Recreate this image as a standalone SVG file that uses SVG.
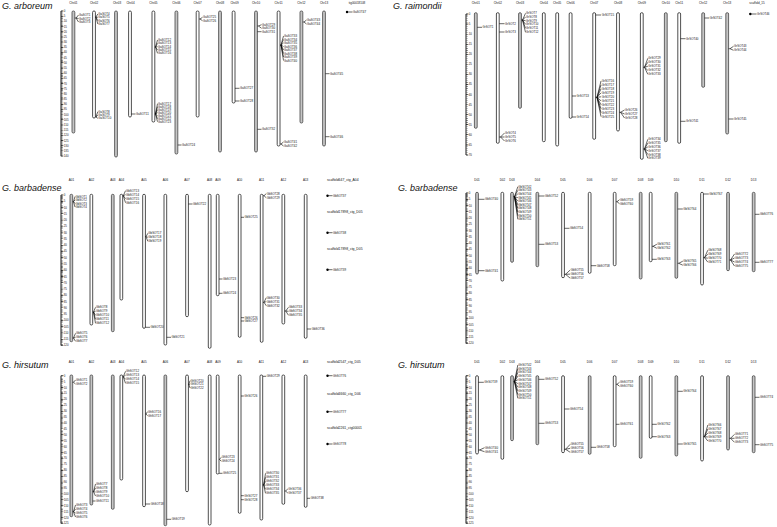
<svg xmlns="http://www.w3.org/2000/svg" width="777" height="527" viewBox="0 0 777 527">
<style>
text{font-family:"Liberation Sans",Arial,sans-serif;fill:#111}
.t{font-size:9px;font-style:italic}
.h{font-size:3px;text-anchor:middle}
.sc{font-size:3.4px}
.g{font-size:2.9px}
.s{font-size:2.8px}
.c{fill:#fff;stroke:#222;stroke-width:.8}
.k{fill:#c6c6c6;stroke:#444}
.l{fill:none;stroke:#000;stroke-width:.6}
.sp{stroke:#000;stroke-width:.9}
.mi{stroke:#000;stroke-width:1.6}
.ma{stroke:#000;stroke-width:2.4}
</style>
<rect width="777" height="527" fill="#fff"/>

<!-- ================= G. arboreum ================= -->
<g id="arboreum">
<text class="t" x="2" y="9">G. arboreum</text>
<g id="a-scale">
<line class="sp" x1="61" y1="11" x2="61" y2="156.2"/>
<line class="mi" x1="62" y1="10.85" x2="62" y2="156.2" stroke-dasharray="0.3 0.736"/>
<line class="ma" x1="62.2" y1="10.78" x2="62.2" y2="156.5" stroke-dasharray="0.45 4.73"/>
<text class="s" x="63.8" y="12">0<tspan x="63.8" dy="5.18">5</tspan><tspan x="63.8" dy="5.18">10</tspan><tspan x="63.8" dy="5.18">15</tspan><tspan x="63.8" dy="5.18">20</tspan><tspan x="63.8" dy="5.18">25</tspan><tspan x="63.8" dy="5.18">30</tspan><tspan x="63.8" dy="5.18">35</tspan><tspan x="63.8" dy="5.18">40</tspan><tspan x="63.8" dy="5.18">45</tspan><tspan x="63.8" dy="5.18">50</tspan><tspan x="63.8" dy="5.18">55</tspan><tspan x="63.8" dy="5.18">60</tspan><tspan x="63.8" dy="5.18">65</tspan><tspan x="63.8" dy="5.18">70</tspan><tspan x="63.8" dy="5.18">75</tspan><tspan x="63.8" dy="5.18">80</tspan><tspan x="63.8" dy="5.18">85</tspan><tspan x="63.8" dy="5.18">90</tspan><tspan x="63.8" dy="5.18">95</tspan><tspan x="63.8" dy="5.18">100</tspan><tspan x="63.8" dy="5.18">105</tspan><tspan x="63.8" dy="5.18">110</tspan><tspan x="63.8" dy="5.18">115</tspan><tspan x="63.8" dy="5.18">120</tspan><tspan x="63.8" dy="5.18">125</tspan><tspan x="63.8" dy="5.18">130</tspan><tspan x="63.8" dy="5.18">135</tspan><tspan x="63.8" dy="5.18">140</tspan></text>
</g>
<g id="a-chr01"><rect class="c k" x="72" y="11" width="2.8" height="122" rx="1.3"/><text class="h" x="73.4" y="4">Chr01</text><text class="g"><tspan x="79" y="16">GaSOT1</tspan><tspan x="79" y="19.5">GaSOT2</tspan><tspan x="79" y="23">GaSOT3</tspan></text></g>
<g id="a-chr02"><rect class="c" x="92.6" y="11" width="2.8" height="107" rx="1.3"/><text class="h" x="94" y="4">Chr02</text><text class="g"><tspan x="98.3" y="15">GaSOT4</tspan><tspan x="98.3" y="18.3">GaSOT5</tspan><tspan x="98.3" y="21.7">GaSOT6</tspan><tspan x="98.3" y="25">GaSOT7</tspan><tspan x="98.3" y="112.7">GaSOT8</tspan><tspan x="98.3" y="116">GaSOT9</tspan><tspan x="98.3" y="119.3">GaSOT10</tspan></text></g>
<g id="a-chr03"><rect class="c k" x="114.6" y="11" width="2.8" height="146" rx="1.3"/><text class="h" x="117" y="4">Chr03</text></g>
<g id="a-chr04"><rect class="c" x="128.6" y="11" width="2.8" height="106" rx="1.3"/><text class="h" x="130.5" y="4">Chr04</text><text class="g"><tspan x="136" y="115">GaSOT11</tspan></text></g>
<g id="a-chr05"><rect class="c" x="152" y="11" width="2.8" height="111" rx="1.3"/><text class="h" x="153.4" y="4">Chr05</text><text class="g"><tspan x="158" y="41">GaSOT12</tspan><tspan x="158" y="44.3">GaSOT13</tspan><tspan x="158" y="47.7">GaSOT14</tspan><tspan x="158" y="51">GaSOT15</tspan><tspan x="158" y="54.3">GaSOT16</tspan><tspan x="158" y="104.7">GaSOT17</tspan><tspan x="158" y="107.7">GaSOT18</tspan><tspan x="158" y="110.7">GaSOT19</tspan><tspan x="158" y="113.7">GaSOT20</tspan><tspan x="158" y="116.7">GaSOT21</tspan><tspan x="158" y="119.7">GaSOT22</tspan><tspan x="158" y="122.7">GaSOT23</tspan></text></g>
<g id="a-chr06"><rect class="c k" x="175" y="11" width="2.8" height="143" rx="1.3"/><text class="h" x="176.4" y="4">Chr06</text><text class="g"><tspan x="182" y="146">GaSOT24</tspan></text></g>
<g id="a-chr07"><rect class="c" x="196.2" y="11" width="2.8" height="106" rx="1.3"/><text class="h" x="197.6" y="4">Chr07</text><text class="g"><tspan x="203" y="18.3">GaSOT25</tspan><tspan x="203" y="21.7">GaSOT26</tspan></text></g>
<g id="a-chr08"><rect class="c k" x="218.6" y="11" width="2.8" height="141" rx="1.3"/><text class="h" x="220" y="4">Chr08</text></g>
<g id="a-chr09"><rect class="c" x="232.2" y="11" width="2.8" height="92" rx="1.3"/><text class="h" x="234.5" y="4">Chr09</text><text class="g"><tspan x="240" y="89.3">GaSOT27</tspan><tspan x="240" y="102">GaSOT28</tspan></text></g>
<g id="a-chr10"><rect class="c k" x="254.6" y="11" width="2.8" height="141" rx="1.3"/><text class="h" x="256" y="4">Chr10</text><text class="g"><tspan x="262" y="25.7">GaSOT29</tspan><tspan x="262" y="29.3">GaSOT30</tspan><tspan x="262" y="32.7">GaSOT31</tspan><tspan x="262" y="130.3">GaSOT32</tspan></text></g>
<g id="a-chr11"><rect class="c" x="277.2" y="11" width="2.8" height="135" rx="1.3"/><text class="h" x="278.6" y="4">Chr11</text><text class="g"><tspan x="284" y="37">GaSOT33</tspan><tspan x="284" y="40.5">GaSOT34</tspan><tspan x="284" y="44">GaSOT35</tspan><tspan x="284" y="47.5">GaSOT36</tspan><tspan x="284" y="51">GaSOT37</tspan><tspan x="284" y="54.5">GaSOT38</tspan><tspan x="284" y="58">GaSOT39</tspan><tspan x="284" y="61.5">GaSOT40</tspan><tspan x="284" y="143">GaSOT41</tspan><tspan x="284" y="147">GaSOT42</tspan></text></g>
<g id="a-chr12"><rect class="c k" x="300" y="11" width="2.8" height="112" rx="1.3"/><text class="h" x="301.4" y="4">Chr12</text><text class="g"><tspan x="307" y="21">GaSOT43</tspan><tspan x="307" y="25">GaSOT44</tspan></text></g>
<g id="a-chr13"><rect class="c k" x="322.6" y="11" width="2.8" height="135" rx="1.3"/><text class="h" x="324" y="4">Chr13</text><text class="g"><tspan x="330" y="74.7">GaSOT45</tspan><tspan x="330" y="137.7">GaSOT46</tspan></text></g>
<g id="a-tig"><text class="h" x="357" y="4">tig00018108</text><circle cx="347" cy="12" r="1.2" fill="#000"/><text class="g" x="353" y="13">GaSOT47</text></g>
<g id="a-links"><path class="l" d="M74.8 18H76M76 18L78.5 15M76 18L78.5 18.5M76 18L78.5 22
M95.4 17H95.9M95.9 17L97.8 14M95.9 17L97.8 17.3M95.9 17L97.8 20.7M95.9 17L97.8 24
M95.4 117H95.9M95.9 117L97.8 111.7M95.9 117L97.8 115M95.9 117L97.8 118.3
M131.4 114H135.5
M154.8 47H155.5M155.5 47L157.5 40M155.5 47L157.5 43.3M155.5 47L157.5 46.7M155.5 47L157.5 50M155.5 47L157.5 53.3
M154.8 114H155.5M155.5 114L157.5 103.7M155.5 114L157.5 106.7M155.5 114L157.5 109.7M155.5 114L157.5 112.7M155.5 114L157.5 115.7M155.5 114L157.5 118.7M155.5 114L157.5 121.7
M177.8 145H181.5
M199 19H200M200 19L202.5 17.3M200 19L202.5 20.7
M235 88.3H239.5M235 101H239.5
M257.4 26H258.5M258.5 26L261.5 24.7M258.5 26L261.5 28.3M257.4 31.7H261.5M257.4 129.3H261.5
M280 45H281M281 45L283.5 36M281 45L283.5 39.5M281 45L283.5 43M281 45L283.5 46.5M281 45L283.5 50M281 45L283.5 53.5M281 45L283.5 57M281 45L283.5 60.5
M280 144H281M281 144L283.5 142M281 144L283.5 146
M302.8 22H304M304 22L306.5 20M304 22L306.5 24
M325.4 73.7H329.5M325.4 136.7H329.5
M347 12H352.5"/></g>
</g>

<!-- ================= G. raimondii ================= -->
<g id="raimondii">
<text class="t" x="393" y="9">G. raimondii</text>
<g id="r-scale">
<line class="sp" x1="466" y1="14" x2="466" y2="155"/>
<line class="mi" x1="467" y1="13.85" x2="467" y2="155.2" stroke-dasharray="0.3 1.714"/>
<line class="ma" x1="467.2" y1="13.78" x2="467.2" y2="155.5" stroke-dasharray="0.45 9.62"/>
<text class="s" x="468.8" y="15">0<tspan x="468.8" dy="10.07">5</tspan><tspan x="468.8" dy="10.07">10</tspan><tspan x="468.8" dy="10.07">15</tspan><tspan x="468.8" dy="10.07">20</tspan><tspan x="468.8" dy="10.07">25</tspan><tspan x="468.8" dy="10.07">30</tspan><tspan x="468.8" dy="10.07">35</tspan><tspan x="468.8" dy="10.07">40</tspan><tspan x="468.8" dy="10.07">45</tspan><tspan x="468.8" dy="10.07">50</tspan><tspan x="468.8" dy="10.07">55</tspan><tspan x="468.8" dy="10.07">60</tspan><tspan x="468.8" dy="10.07">65</tspan><tspan x="468.8" dy="10.07">70</tspan></text>
</g>
<g id="r-chr01"><rect class="c k" x="474.4" y="12.7" width="2.8" height="115.6" rx="1.3"/><text class="h" x="475.8" y="4">Chr01</text><text class="g" x="482.5" y="28.3">GrSOT1</text></g>
<g id="r-chr02"><rect class="c" x="496.4" y="12.7" width="2.8" height="130.6" rx="1.3"/><text class="h" x="497.8" y="4">Chr02</text><text class="g"><tspan x="505" y="24.7">GrSOT2</tspan><tspan x="505" y="33">GrSOT3</tspan><tspan x="505" y="134">GrSOT4</tspan><tspan x="505" y="138">GrSOT5</tspan><tspan x="505" y="142">GrSOT6</tspan></text></g>
<g id="r-chr03"><rect class="c k" x="518.6" y="12.7" width="2.8" height="95.6" rx="1.3"/><text class="h" x="520" y="4">Chr03</text><text class="g"><tspan x="526" y="14.3">GrSOT7</tspan><tspan x="526" y="18">GrSOT8</tspan><tspan x="526" y="21.7">GrSOT9</tspan><tspan x="526" y="25.3">GrSOT10</tspan><tspan x="526" y="29.3">GrSOT11</tspan><tspan x="526" y="33.3">GrSOT12</tspan></text></g>
<g id="r-chr04"><rect class="c" x="542.4" y="12.7" width="2.8" height="129" rx="1.3"/><text class="h" x="543.8" y="4">Chr04</text></g>
<g id="r-chr05"><rect class="c" x="555.8" y="12.7" width="2.8" height="133.3" rx="1.3"/><text class="h" x="557.2" y="4">Chr05</text></g>
<g id="r-chr06"><rect class="c" x="569.2" y="12.7" width="2.8" height="105.6" rx="1.3"/><text class="h" x="570.6" y="4">Chr06</text><text class="g"><tspan x="576.5" y="97">GrSOT13</tspan><tspan x="576.5" y="118">GrSOT14</tspan></text></g>
<g id="r-chr07"><rect class="c" x="592.8" y="12.7" width="2.8" height="126.6" rx="1.3"/><text class="h" x="594.2" y="4">Chr07</text><text class="g"><tspan x="601.7" y="16">GrSOT15</tspan><tspan x="601.7" y="82">GrSOT16</tspan><tspan x="601.7" y="86">GrSOT17</tspan><tspan x="601.7" y="89.9">GrSOT18</tspan><tspan x="601.7" y="93.9">GrSOT19</tspan><tspan x="601.7" y="97.8">GrSOT20</tspan><tspan x="601.7" y="101.8">GrSOT21</tspan><tspan x="601.7" y="105.8">GrSOT22</tspan><tspan x="601.7" y="109.7">GrSOT23</tspan><tspan x="601.7" y="113.7">GrSOT24</tspan><tspan x="601.7" y="117.6">GrSOT25</tspan></text></g>
<g id="r-chr08"><rect class="c" x="616.6" y="12.7" width="2.8" height="118.3" rx="1.3"/><text class="h" x="618" y="4">Chr08</text><text class="g"><tspan x="625" y="111">GrSOT26</tspan><tspan x="625" y="115">GrSOT27</tspan><tspan x="625" y="119">GrSOT28</tspan></text></g>
<g id="r-chr09"><rect class="c" x="640.4" y="12.7" width="2.8" height="146.6" rx="1.3"/><text class="h" x="641.8" y="4">Chr09</text><text class="g"><tspan x="648.3" y="59.3">GrSOT29</tspan><tspan x="648.3" y="63.3">GrSOT30</tspan><tspan x="648.3" y="67.3">GrSOT31</tspan><tspan x="648.3" y="71.3">GrSOT32</tspan><tspan x="648.3" y="75.3">GrSOT33</tspan><tspan x="648.3" y="140.3">GrSOT34</tspan><tspan x="648.3" y="144.1">GrSOT35</tspan><tspan x="648.3" y="147.9">GrSOT36</tspan><tspan x="648.3" y="151.7">GrSOT37</tspan><tspan x="648.3" y="155.5">GrSOT38</tspan><tspan x="648.3" y="159.3">GrSOT39</tspan></text></g>
<g id="r-chr10"><rect class="c k" x="664.4" y="12.7" width="2.8" height="129" rx="1.3"/><text class="h" x="665.8" y="4">Chr10</text></g>
<g id="r-chr11"><rect class="c" x="677.8" y="12.7" width="2.8" height="130.6" rx="1.3"/><text class="h" x="679.2" y="4">Chr11</text><text class="g"><tspan x="686" y="39.7">GrSOT40</tspan><tspan x="686" y="122.3">GrSOT41</tspan></text></g>
<g id="r-chr12"><rect class="c k" x="701.8" y="12.7" width="2.8" height="74.6" rx="1.3"/><text class="h" x="703.2" y="4">Chr12</text><text class="g" x="709.7" y="19">GrSOT42</text></g>
<g id="r-chr13"><rect class="c k" x="725.8" y="12.7" width="2.8" height="121.3" rx="1.3"/><text class="h" x="727.2" y="4">Chr13</text><text class="g"><tspan x="734" y="47.3">GrSOT43</tspan><tspan x="734" y="51.3">GrSOT44</tspan><tspan x="734" y="120">GrSOT45</tspan></text></g>
<g id="r-scaf15"><text class="h" x="757" y="4">scaffold_15</text><circle cx="750.3" cy="14" r="1.2" fill="#000"/><text class="g" x="757" y="15">GrSOT46</text></g>
<g id="r-links"><path class="l" d="M477.2 27.3H482
M499.2 23.7H504.5M499.2 32H504.5
M499.2 137H500.5M500.5 137L504.5 133M500.5 137L504.5 137M500.5 137L504.5 141
M521.4 20H522.5M522.5 20L525.5 13.3M522.5 20L525.5 17M522.5 20L525.5 20.7M522.5 20L525.5 24.3M522.5 20L525.5 28.3M522.5 20L525.5 32.3
M572 96H576M572 117H576
M595.6 15H601
M595.6 97.3H597M597 97.3L601 81M597 97.3L601 85M597 97.3L601 88.9M597 97.3L601 92.9M597 97.3L601 96.8M597 97.3L601 100.8M597 97.3L601 104.8M597 97.3L601 108.7M597 97.3L601 112.7M597 97.3L601 116.6
M619.4 112.3H620.5M620.5 112.3L624.5 110M620.5 112.3L624.5 114M620.5 112.3L624.5 118
M643.2 67.3H644.5M644.5 67.3L647.8 58.3M644.5 67.3L647.8 62.3M644.5 67.3L647.8 66.3M644.5 67.3L647.8 70.3M644.5 67.3L647.8 74.3
M643.2 149H644.5M644.5 149L647.8 139.3M644.5 149L647.8 143.1M644.5 149L647.8 146.9M644.5 149L647.8 150.7M644.5 149L647.8 154.5M644.5 149L647.8 158.3
M680.6 38.7H685.5M680.6 121.3H685.5
M704.6 18H709.2
M728.6 48.7H730M730 48.7L733.5 46.3M730 48.7L733.5 50.3M728.6 119H733.5
M750.3 14H756.5"/></g>
</g>

<!-- ================= G. barbadense A ================= -->
<g id="barbadense-A">
<text class="t" x="2" y="191">G. barbadense</text>
<g id="bA-scale">
<line class="sp" x1="61" y1="195" x2="61" y2="345.5"/>
<line class="mi" x1="62" y1="194.85" x2="62" y2="345.6" stroke-dasharray="0.3 0.954"/>
<line class="ma" x1="62.2" y1="194.78" x2="62.2" y2="345.8" stroke-dasharray="0.45 5.82"/>
<text class="s" x="63.8" y="196">0<tspan x="63.8" dy="6.27">5</tspan><tspan x="63.8" dy="6.27">10</tspan><tspan x="63.8" dy="6.27">15</tspan><tspan x="63.8" dy="6.27">20</tspan><tspan x="63.8" dy="6.27">25</tspan><tspan x="63.8" dy="6.27">30</tspan><tspan x="63.8" dy="6.27">35</tspan><tspan x="63.8" dy="6.27">40</tspan><tspan x="63.8" dy="6.27">45</tspan><tspan x="63.8" dy="6.27">50</tspan><tspan x="63.8" dy="6.27">55</tspan><tspan x="63.8" dy="6.27">60</tspan><tspan x="63.8" dy="6.27">65</tspan><tspan x="63.8" dy="6.27">70</tspan><tspan x="63.8" dy="6.27">75</tspan><tspan x="63.8" dy="6.27">80</tspan><tspan x="63.8" dy="6.27">85</tspan><tspan x="63.8" dy="6.27">90</tspan><tspan x="63.8" dy="6.27">95</tspan><tspan x="63.8" dy="6.27">100</tspan><tspan x="63.8" dy="6.27">105</tspan><tspan x="63.8" dy="6.27">110</tspan><tspan x="63.8" dy="6.27">115</tspan><tspan x="63.8" dy="6.27">120</tspan></text>
</g>
<g id="bA-A01"><rect class="c k" x="70" y="194.3" width="2.7" height="147.4" rx="1.3"/><text class="h" x="71.4" y="181">A01</text><text class="g"><tspan x="75.5" y="197.5">GbSOT1</tspan><tspan x="75.5" y="201">GbSOT2</tspan><tspan x="75.5" y="204.5">GbSOT3</tspan><tspan x="75.5" y="208">GbSOT4</tspan><tspan x="76" y="334.3">GbSOT5</tspan><tspan x="76" y="338.3">GbSOT6</tspan><tspan x="76" y="342.3">GbSOT7</tspan></text></g>
<g id="bA-A02"><rect class="c" x="90" y="194.3" width="2.7" height="130.7" rx="1.3"/><text class="h" x="91.4" y="181">A02</text><text class="g"><tspan x="96" y="308.3">GbSOT8</tspan><tspan x="96" y="312.3">GbSOT9</tspan><tspan x="96" y="316.3">GbSOT10</tspan><tspan x="96" y="320.3">GbSOT11</tspan><tspan x="96" y="324.3">GbSOT12</tspan></text></g>
<g id="bA-A03"><rect class="c k" x="111.4" y="194.3" width="2.7" height="137.4" rx="1.3"/><text class="h" x="112.8" y="181">A03</text></g>
<g id="bA-A04"><rect class="c" x="120" y="194.3" width="2.7" height="105.7" rx="1.3"/><text class="h" x="121.4" y="181">A04</text><text class="g"><tspan x="126" y="191.7">GbSOT13</tspan><tspan x="126" y="195.7">GbSOT14</tspan><tspan x="126" y="199.7">GbSOT15</tspan><tspan x="126" y="203.7">GbSOT16</tspan></text></g>
<g id="bA-A05"><rect class="c" x="142.7" y="194.3" width="2.7" height="134" rx="1.3"/><text class="h" x="144" y="181">A05</text><text class="g"><tspan x="148.3" y="234.3">GbSOT17</tspan><tspan x="148.3" y="238.3">GbSOT18</tspan><tspan x="148.3" y="242.3">GbSOT19</tspan><tspan x="150.5" y="328.3">GbSOT20</tspan></text></g>
<g id="bA-A06"><rect class="c" x="164" y="194.3" width="2.7" height="150.7" rx="1.3"/><text class="h" x="165.4" y="181">A06</text><text class="g" x="171.5" y="338.3">GbSOT21</text></g>
<g id="bA-A07"><rect class="c" x="185.7" y="194.3" width="2.7" height="122.4" rx="1.3"/><text class="h" x="187" y="181">A07</text><text class="g" x="193" y="205">GbSOT22</text></g>
<g id="bA-A08"><rect class="c" x="208.3" y="194.3" width="2.7" height="154" rx="1.3"/><text class="h" x="209.6" y="181">A08</text></g>
<g id="bA-A09"><rect class="c" x="216.3" y="194.3" width="2.7" height="101.4" rx="1.3"/><text class="h" x="218" y="181">A09</text><text class="g"><tspan x="223" y="280">GbSOT23</tspan><tspan x="223" y="294.3">GbSOT24</tspan></text></g>
<g id="bA-A10"><rect class="c" x="238.3" y="194.3" width="2.7" height="143" rx="1.3"/><text class="h" x="239.6" y="181">A10</text><text class="g"><tspan x="244.5" y="218.3">GbSOT25</tspan><tspan x="244.5" y="318.7">GbSOT26</tspan><tspan x="244.5" y="322">GbSOT27</tspan></text></g>
<g id="bA-A11"><rect class="c" x="260.3" y="194.3" width="2.7" height="148" rx="1.3"/><text class="h" x="261.6" y="181">A11</text><text class="g"><tspan x="266.7" y="194.7">GbSOT28</tspan><tspan x="266.7" y="198.7">GbSOT29</tspan><tspan x="266.7" y="298.7">GbSOT30</tspan><tspan x="266.7" y="302.7">GbSOT31</tspan><tspan x="266.7" y="306.7">GbSOT32</tspan></text></g>
<g id="bA-A12"><rect class="c" x="282" y="194.3" width="2.7" height="129.7" rx="1.3"/><text class="h" x="283.4" y="181">A12</text><text class="g"><tspan x="289" y="308.3">GbSOT33</tspan><tspan x="289" y="312.3">GbSOT34</tspan><tspan x="289" y="316.3">GbSOT35</tspan></text></g>
<g id="bA-A13"><rect class="c" x="304.3" y="194.3" width="2.7" height="144" rx="1.3"/><text class="h" x="305.6" y="181">A13</text><text class="g" x="311.7" y="330">GbSOT36</text></g>
<g id="bA-scaf1"><text class="sc" x="327" y="181">scaffold647_ctg_A04</text><circle cx="327.5" cy="195.7" r="1.2" fill="#000"/><text class="g" x="333" y="196.7">GbSOT37</text></g>
<g id="bA-scaf2"><text class="sc" x="327" y="213">scaffold17898_ctg_D05</text><circle cx="327.5" cy="232.7" r="1.2" fill="#000"/><text class="g" x="333" y="233.7">GbSOT38</text></g>
<g id="bA-scaf3"><text class="sc" x="327" y="249.5">scaffold17898_ctg_D05</text><circle cx="327.5" cy="269.7" r="1.2" fill="#000"/><text class="g" x="333" y="270.7">GbSOT39</text></g>
<g id="bA-links"><path class="l" d="M72.7 201.7H73.5M73.5 201.7L75 196.5M73.5 201.7L75 200M73.5 201.7L75 203.5M73.5 201.7L75 207
M72.7 338H73.5M73.5 338L75.5 333.3M73.5 338L75.5 337.3M73.5 338L75.5 341.3
M92.7 312H93.5M93.5 312L95.5 307.3M93.5 312L95.5 311.3M93.5 312L95.5 315.3M93.5 312L95.5 319.3M93.5 312L95.5 323.3
M122.7 195.7H123.3M123.3 195.7L125.5 190.7M123.3 195.7L125.5 194.7M123.3 195.7L125.5 198.7M123.3 195.7L125.5 202.7
M145.4 236.7H146M146 236.7L147.8 233.3M146 236.7L147.8 237.3M146 236.7L147.8 241.3
M145.4 327.3H150
M166.7 337.3H171
M188.4 204H192.5
M219 279H222.5M219 293.3H222.5
M241 217.3H244M241 317.7H244M241 321H244
M263 195.7H264M264 195.7L266.2 193.7M264 195.7L266.2 197.7
M263 302.3H264M264 302.3L266.2 297.7M264 302.3L266.2 301.7M264 302.3L266.2 305.7
M284.7 311H285.7M285.7 311L288.5 307.3M285.7 311L288.5 311.3M285.7 311L288.5 315.3
M307 329H311.2
M327.5 195.7H332.5M327.5 232.7H332.5M327.5 269.7H332.5"/></g>
</g>

<!-- ================= G. barbadense D ================= -->
<g id="barbadense-D">
<text class="t" x="398" y="191">G. barbadense</text>
<g id="bD-scale">
<line class="sp" x1="466" y1="193" x2="466" y2="343.5"/>
<line class="mi" x1="467" y1="192.85" x2="467" y2="343.6" stroke-dasharray="0.3 0.954"/>
<line class="ma" x1="467.2" y1="192.78" x2="467.2" y2="343.8" stroke-dasharray="0.45 5.82"/>
<text class="s" x="468.8" y="194">0<tspan x="468.8" dy="6.27">5</tspan><tspan x="468.8" dy="6.27">10</tspan><tspan x="468.8" dy="6.27">15</tspan><tspan x="468.8" dy="6.27">20</tspan><tspan x="468.8" dy="6.27">25</tspan><tspan x="468.8" dy="6.27">30</tspan><tspan x="468.8" dy="6.27">35</tspan><tspan x="468.8" dy="6.27">40</tspan><tspan x="468.8" dy="6.27">45</tspan><tspan x="468.8" dy="6.27">50</tspan><tspan x="468.8" dy="6.27">55</tspan><tspan x="468.8" dy="6.27">60</tspan><tspan x="468.8" dy="6.27">65</tspan><tspan x="468.8" dy="6.27">70</tspan><tspan x="468.8" dy="6.27">75</tspan><tspan x="468.8" dy="6.27">80</tspan><tspan x="468.8" dy="6.27">85</tspan><tspan x="468.8" dy="6.27">90</tspan><tspan x="468.8" dy="6.27">95</tspan><tspan x="468.8" dy="6.27">100</tspan><tspan x="468.8" dy="6.27">105</tspan><tspan x="468.8" dy="6.27">110</tspan><tspan x="468.8" dy="6.27">115</tspan><tspan x="468.8" dy="6.27">120</tspan></text>
</g>
<g id="bD-D01"><rect class="c k" x="475.7" y="192.3" width="2.7" height="81.7" rx="1.3"/><text class="h" x="477" y="181">D01</text><text class="g"><tspan x="485" y="200.3">GbSOT40</tspan><tspan x="485" y="271.7">GbSOT41</tspan></text></g>
<g id="bD-D02"><rect class="c" x="501" y="192.3" width="2.7" height="88.7" rx="1.3"/><text class="h" x="502.4" y="181">D02</text></g>
<g id="bD-D03"><rect class="c k" x="510.7" y="192.3" width="2.7" height="70" rx="1.3"/><text class="h" x="512" y="181">D03</text><text class="g"><tspan x="518.3" y="187.7">GbSOT42</tspan><tspan x="518.3" y="191.3">GbSOT43</tspan><tspan x="518.3" y="194.9">GbSOT44</tspan><tspan x="518.3" y="198.6">GbSOT45</tspan><tspan x="518.3" y="202.2">GbSOT46</tspan><tspan x="518.3" y="205.8">GbSOT47</tspan><tspan x="518.3" y="209.4">GbSOT48</tspan><tspan x="518.3" y="213">GbSOT49</tspan><tspan x="518.3" y="216.7">GbSOT50</tspan><tspan x="518.3" y="220.3">GbSOT51</tspan></text></g>
<g id="bD-D04"><rect class="c k" x="536" y="192.3" width="2.7" height="74.4" rx="1.3"/><text class="h" x="537.4" y="181">D04</text><text class="g"><tspan x="545" y="197">GbSOT52</tspan><tspan x="545" y="245.3">GbSOT53</tspan></text></g>
<g id="bD-D05"><rect class="c" x="561.7" y="192.3" width="2.7" height="85.4" rx="1.3"/><text class="h" x="563" y="181">D05</text><text class="g"><tspan x="570" y="229.3">GbSOT54</tspan><tspan x="570.7" y="271">GbSOT55</tspan><tspan x="570.7" y="275.1">GbSOT56</tspan><tspan x="570.7" y="279.2">GbSOT57</tspan></text></g>
<g id="bD-D06"><rect class="c" x="588.3" y="192.3" width="2.7" height="81" rx="1.3"/><text class="h" x="589.6" y="181">D06</text><text class="g" x="596.7" y="266.7">GbSOT58</text></g>
<g id="bD-D07"><rect class="c" x="613.3" y="192.3" width="2.7" height="73.4" rx="1.3"/><text class="h" x="614.6" y="181">D07</text><text class="g"><tspan x="620" y="200.7">GbSOT59</tspan><tspan x="620" y="204.7">GbSOT60</tspan></text></g>
<g id="bD-D08"><rect class="c k" x="639.3" y="192.3" width="2.7" height="86.7" rx="1.3"/><text class="h" x="640.6" y="181">D08</text></g>
<g id="bD-D09"><rect class="c" x="649.3" y="192.3" width="2.7" height="69.4" rx="1.3"/><text class="h" x="650.8" y="181">D09</text><text class="g"><tspan x="657.3" y="245.3">GbSOT61</tspan><tspan x="657.3" y="249.3">GbSOT62</tspan><tspan x="657.3" y="260.3">GbSOT63</tspan></text></g>
<g id="bD-D10"><rect class="c k" x="675" y="192.3" width="2.7" height="86" rx="1.3"/><text class="h" x="676.4" y="181">D10</text><text class="g"><tspan x="683.3" y="210">GbSOT64</tspan><tspan x="683.3" y="262.2">GbSOT65</tspan><tspan x="683.3" y="266.2">GbSOT66</tspan></text></g>
<g id="bD-D11"><rect class="c" x="700.7" y="192.3" width="2.7" height="92.7" rx="1.3"/><text class="h" x="702" y="181">D11</text><text class="g"><tspan x="709.3" y="195">GbSOT67</tspan><tspan x="708.3" y="251.2">GbSOT68</tspan><tspan x="708.3" y="255.2">GbSOT69</tspan><tspan x="708.3" y="259.2">GbSOT70</tspan><tspan x="708.3" y="263.2">GbSOT71</tspan></text></g>
<g id="bD-D12"><rect class="c k" x="726.7" y="192.3" width="2.7" height="78.4" rx="1.3"/><text class="h" x="728" y="181">D12</text><text class="g"><tspan x="735" y="255">GbSOT72</tspan><tspan x="735" y="259">GbSOT73</tspan><tspan x="735" y="263">GbSOT74</tspan><tspan x="735" y="267">GbSOT75</tspan></text></g>
<g id="bD-D13"><rect class="c k" x="752.3" y="192.3" width="2.7" height="79.4" rx="1.3"/><text class="h" x="753.6" y="181">D13</text><text class="g"><tspan x="760" y="215.3">GbSOT76</tspan><tspan x="760" y="263.3">GbSOT77</tspan></text></g>
<g id="bD-links"><path class="l" d="M478.4 199.3H484.5M478.4 270.7H484.5
M513.4 196.7H514.5M514.5 196.7L517.8 186.7M514.5 196.7L517.8 190.3M514.5 196.7L517.8 193.9M514.5 196.7L517.8 197.6M514.5 196.7L517.8 201.2M514.5 196.7L517.8 204.8M514.5 196.7L517.8 208.4M514.5 196.7L517.8 212M514.5 196.7L517.8 215.7M514.5 196.7L517.8 219.3
M538.7 196H544.5M538.7 244.3H544.5
M564.4 228.3H569.5
M564.4 274.3H565.5M565.5 274.3L570.2 270M565.5 274.3L570.2 274.1M565.5 274.3L570.2 278.2
M591 265.7H596.2
M616 201.7H617M617 201.7L619.5 199.7M617 201.7L619.5 203.7
M652 246.3H653M653 246.3L656.8 244.3M653 246.3L656.8 248.3M652 259.3H656.8
M677.7 209H682.8
M677.7 263.3H678.7M678.7 263.3L682.8 261.2M678.7 263.3L682.8 265.2
M703.4 194H708.8
M703.4 257.7H704.5M704.5 257.7L707.8 250.2M704.5 257.7L707.8 254.2M704.5 257.7L707.8 258.2M704.5 257.7L707.8 262.2
M729.4 260H730.5M730.5 260L734.5 254M730.5 260L734.5 258M730.5 260L734.5 262M730.5 260L734.5 266
M755 214.3H759.5M755 262.3H759.5"/></g>
</g>

<!-- ================= G. hirsutum A ================= -->
<g id="hirsutum-A">
<text class="t" x="2" y="368">G. hirsutum</text>
<g id="hA-scale">
<line class="sp" x1="61" y1="375.7" x2="61" y2="523.5"/>
<line class="mi" x1="62" y1="375.55" x2="62" y2="523.6" stroke-dasharray="0.3 0.882"/>
<line class="ma" x1="62.2" y1="375.48" x2="62.2" y2="523.8" stroke-dasharray="0.45 5.46"/>
<text class="s" x="63.8" y="376.7">0<tspan x="63.8" dy="5.91">5</tspan><tspan x="63.8" dy="5.91">10</tspan><tspan x="63.8" dy="5.91">15</tspan><tspan x="63.8" dy="5.91">20</tspan><tspan x="63.8" dy="5.91">25</tspan><tspan x="63.8" dy="5.91">30</tspan><tspan x="63.8" dy="5.91">35</tspan><tspan x="63.8" dy="5.91">40</tspan><tspan x="63.8" dy="5.91">45</tspan><tspan x="63.8" dy="5.91">50</tspan><tspan x="63.8" dy="5.91">55</tspan><tspan x="63.8" dy="5.91">60</tspan><tspan x="63.8" dy="5.91">65</tspan><tspan x="63.8" dy="5.91">70</tspan><tspan x="63.8" dy="5.91">75</tspan><tspan x="63.8" dy="5.91">80</tspan><tspan x="63.8" dy="5.91">85</tspan><tspan x="63.8" dy="5.91">90</tspan><tspan x="63.8" dy="5.91">95</tspan><tspan x="63.8" dy="5.91">100</tspan><tspan x="63.8" dy="5.91">105</tspan><tspan x="63.8" dy="5.91">110</tspan><tspan x="63.8" dy="5.91">115</tspan><tspan x="63.8" dy="5.91">120</tspan><tspan x="63.8" dy="5.91">125</tspan></text>
</g>
<g id="hA-A01"><rect class="c k" x="70" y="375" width="2.7" height="141.7" rx="1.3"/><text class="h" x="71.4" y="363">A01</text><text class="g"><tspan x="76" y="381">GhSOT1</tspan><tspan x="76" y="385">GhSOT2</tspan><tspan x="76" y="506">GhSOT3</tspan><tspan x="76" y="510">GhSOT4</tspan><tspan x="76" y="514">GhSOT5</tspan><tspan x="76" y="518">GhSOT6</tspan></text></g>
<g id="hA-A02"><rect class="c k" x="90" y="375" width="2.7" height="130" rx="1.3"/><text class="h" x="91.4" y="363">A02</text><text class="g"><tspan x="96" y="485">GhSOT7</tspan><tspan x="96" y="489">GhSOT8</tspan><tspan x="96" y="493">GhSOT9</tspan><tspan x="96" y="497">GhSOT10</tspan><tspan x="96" y="502">GhSOT11</tspan></text></g>
<g id="hA-A03"><rect class="c k" x="111.4" y="375" width="2.7" height="134.3" rx="1.3"/><text class="h" x="112.8" y="363">A03</text></g>
<g id="hA-A04"><rect class="c" x="120" y="375" width="2.7" height="105" rx="1.3"/><text class="h" x="121.4" y="363">A04</text><text class="g"><tspan x="126" y="372.3">GhSOT12</tspan><tspan x="126" y="376.3">GhSOT13</tspan><tspan x="126" y="380.3">GhSOT14</tspan><tspan x="126" y="384.3">GhSOT15</tspan></text></g>
<g id="hA-A05"><rect class="c" x="142.7" y="375" width="2.7" height="131.7" rx="1.3"/><text class="h" x="144" y="363">A05</text><text class="g"><tspan x="148" y="412.7">GhSOT16</tspan><tspan x="148" y="416.7">GhSOT17</tspan><tspan x="150.7" y="505">GhSOT18</tspan></text></g>
<g id="hA-A06"><rect class="c k" x="164" y="375" width="2.7" height="150.7" rx="1.3"/><text class="h" x="165.4" y="363">A06</text><text class="g" x="171.7" y="520.3">GhSOT19</text></g>
<g id="hA-A07"><rect class="c" x="185.7" y="375" width="2.7" height="116.7" rx="1.3"/><text class="h" x="187" y="363">A07</text><text class="g"><tspan x="190.5" y="381.7">GhSOT20</tspan><tspan x="190.5" y="385.3">GhSOT21</tspan><tspan x="190.5" y="389">GhSOT22</tspan></text></g>
<g id="hA-A08"><rect class="c" x="208.3" y="375" width="2.7" height="150" rx="1.3"/><text class="h" x="209.6" y="363">A08</text></g>
<g id="hA-A09"><rect class="c" x="216.3" y="375" width="2.7" height="99" rx="1.3"/><text class="h" x="218" y="363">A09</text><text class="g"><tspan x="221.7" y="458.3">GhSOT23</tspan><tspan x="221.7" y="462.3">GhSOT24</tspan><tspan x="223" y="474.3">GhSOT25</tspan></text></g>
<g id="hA-A10"><rect class="c" x="238.3" y="375" width="2.7" height="138.3" rx="1.3"/><text class="h" x="239.6" y="363">A10</text><text class="g"><tspan x="244.3" y="397">GhSOT26</tspan><tspan x="244.3" y="496.7">GhSOT27</tspan><tspan x="244.3" y="500.7">GhSOT28</tspan></text></g>
<g id="hA-A11"><rect class="c" x="260" y="375" width="2.7" height="145" rx="1.3"/><text class="h" x="261.4" y="363">A11</text><text class="g"><tspan x="266.7" y="377.3">GhSOT29</tspan><tspan x="266" y="474.3">GhSOT30</tspan><tspan x="266" y="478.3">GhSOT31</tspan><tspan x="266" y="482.3">GhSOT32</tspan><tspan x="266" y="486.3">GhSOT33</tspan><tspan x="266" y="490.3">GhSOT34</tspan><tspan x="266" y="494.3">GhSOT35</tspan></text></g>
<g id="hA-A12"><rect class="c" x="282" y="375" width="2.7" height="129.3" rx="1.3"/><text class="h" x="283.4" y="363">A12</text><text class="g"><tspan x="288.3" y="490">GhSOT36</tspan><tspan x="288.3" y="494">GhSOT37</tspan></text></g>
<g id="hA-A13"><rect class="c" x="304.3" y="375" width="2.7" height="132.3" rx="1.3"/><text class="h" x="305.6" y="363">A13</text><text class="g" x="310.7" y="499.3">GhSOT38</text></g>
<g id="hA-scaf1"><text class="sc" x="327" y="363">scaffold2547_ctg_D05</text><circle cx="327.5" cy="375.7" r="1.2" fill="#000"/><text class="g" x="333" y="376.7">GhSOT76</text></g>
<g id="hA-scaf2"><text class="sc" x="327" y="395">scaffold4660_ctg_D06</text><circle cx="327.5" cy="411.7" r="1.2" fill="#000"/><text class="g" x="333" y="412.7">GhSOT77</text></g>
<g id="hA-scaf3"><text class="sc" x="327" y="429">scaffold2261_ctg00001</text><circle cx="327.5" cy="444" r="1.2" fill="#000"/><text class="g" x="333" y="445">GhSOT78</text></g>
<g id="hA-links"><path class="l" d="M72.7 382.3H73.5M73.5 382.3L75.5 380M73.5 382.3L75.5 384
M72.7 511.7H73.5M73.5 511.7L75.5 505M73.5 511.7L75.5 509M73.5 511.7L75.5 513M73.5 511.7L75.5 517
M92.7 491.7H93.5M93.5 491.7L95.5 484M93.5 491.7L95.5 488M93.5 491.7L95.5 492M93.5 491.7L95.5 496M92.7 501H95.5
M122.7 376.7H123.3M123.3 376.7L125.5 371.3M123.3 376.7L125.5 375.3M123.3 376.7L125.5 379.3M123.3 376.7L125.5 383.3
M145.4 414H146M146 414L147.5 411.7M146 414L147.5 415.7M145.4 504H150.2
M166.7 519.3H171.2
M188.4 384.3H188.8M188.8 384.3L190 380.7M188.8 384.3L190 384.3M188.8 384.3L190 388
M219 459.3H219.5M219.5 459.3L221.2 457.3M219.5 459.3L221.2 461.3M219 473.3H222.5
M241 396H243.8M241 495.7H243.8M241 499.7H243.8
M262.7 376.3H266.2
M262.7 485H263.7M263.7 485L265.5 473.3M263.7 485L265.5 477.3M263.7 485L265.5 481.3M263.7 485L265.5 485.3M263.7 485L265.5 489.3M263.7 485L265.5 493.3
M284.7 491H285.5M285.5 491L287.8 489M285.5 491L287.8 493
M307 498.3H310.2
M327.5 375.7H332.5M327.5 411.7H332.5M327.5 444H332.5"/></g>
</g>

<!-- ================= G. hirsutum D ================= -->
<g id="hirsutum-D">
<text class="t" x="398" y="368">G. hirsutum</text>
<g id="hD-scale">
<line class="sp" x1="466" y1="375.7" x2="466" y2="523.5"/>
<line class="mi" x1="467" y1="375.55" x2="467" y2="523.6" stroke-dasharray="0.3 0.882"/>
<line class="ma" x1="467.2" y1="375.48" x2="467.2" y2="523.8" stroke-dasharray="0.45 5.46"/>
<text class="s" x="468.8" y="376.7">0<tspan x="468.8" dy="5.91">5</tspan><tspan x="468.8" dy="5.91">10</tspan><tspan x="468.8" dy="5.91">15</tspan><tspan x="468.8" dy="5.91">20</tspan><tspan x="468.8" dy="5.91">25</tspan><tspan x="468.8" dy="5.91">30</tspan><tspan x="468.8" dy="5.91">35</tspan><tspan x="468.8" dy="5.91">40</tspan><tspan x="468.8" dy="5.91">45</tspan><tspan x="468.8" dy="5.91">50</tspan><tspan x="468.8" dy="5.91">55</tspan><tspan x="468.8" dy="5.91">60</tspan><tspan x="468.8" dy="5.91">65</tspan><tspan x="468.8" dy="5.91">70</tspan><tspan x="468.8" dy="5.91">75</tspan><tspan x="468.8" dy="5.91">80</tspan><tspan x="468.8" dy="5.91">85</tspan><tspan x="468.8" dy="5.91">90</tspan><tspan x="468.8" dy="5.91">95</tspan><tspan x="468.8" dy="5.91">100</tspan><tspan x="468.8" dy="5.91">105</tspan><tspan x="468.8" dy="5.91">110</tspan><tspan x="468.8" dy="5.91">115</tspan><tspan x="468.8" dy="5.91">120</tspan><tspan x="468.8" dy="5.91">125</tspan></text>
</g>
<g id="hD-D01"><rect class="c" x="475.7" y="375.7" width="2.7" height="78.3" rx="1.3"/><text class="h" x="477" y="363">D01</text><text class="g"><tspan x="484.3" y="383.3">GhSOT39</tspan><tspan x="485" y="448.7">GhSOT40</tspan><tspan x="485" y="452.7">GhSOT41</tspan></text></g>
<g id="hD-D02"><rect class="c" x="501" y="375.7" width="2.7" height="83.6" rx="1.3"/><text class="h" x="502.4" y="363">D02</text></g>
<g id="hD-D03"><rect class="c k" x="510.7" y="375.7" width="2.7" height="65" rx="1.3"/><text class="h" x="512" y="363">D03</text><text class="g"><tspan x="518.3" y="366">GhSOT42</tspan><tspan x="518.3" y="369.7">GhSOT43</tspan><tspan x="518.3" y="373.4">GhSOT44</tspan><tspan x="518.3" y="377.1">GhSOT45</tspan><tspan x="518.3" y="380.8">GhSOT46</tspan><tspan x="518.3" y="384.5">GhSOT47</tspan><tspan x="518.3" y="388.2">GhSOT48</tspan><tspan x="518.3" y="391.9">GhSOT49</tspan><tspan x="518.3" y="395.6">GhSOT50</tspan><tspan x="518.3" y="399.3">GhSOT51</tspan></text></g>
<g id="hD-D04"><rect class="c k" x="536" y="375.7" width="2.7" height="69" rx="1.3"/><text class="h" x="537.4" y="363">D04</text><text class="g"><tspan x="545" y="380.3">GhSOT52</tspan><tspan x="545" y="424.3">GhSOT53</tspan></text></g>
<g id="hD-D05"><rect class="c" x="561.7" y="375.7" width="2.7" height="77" rx="1.3"/><text class="h" x="563" y="363">D05</text><text class="g"><tspan x="570" y="410">GhSOT54</tspan><tspan x="570.7" y="445.3">GhSOT55</tspan><tspan x="570.7" y="449.3">GhSOT56</tspan><tspan x="570.7" y="453.3">GhSOT57</tspan></text></g>
<g id="hD-D06"><rect class="c k" x="588.3" y="375.7" width="2.7" height="78.6" rx="1.3"/><text class="h" x="589.6" y="363">D06</text><text class="g" x="596.7" y="448.3">GhSOT58</text></g>
<g id="hD-D07"><rect class="c" x="613.3" y="375.7" width="2.7" height="71" rx="1.3"/><text class="h" x="614.6" y="363">D07</text><text class="g"><tspan x="620" y="383.3">GhSOT59</tspan><tspan x="620" y="387.3">GhSOT60</tspan><tspan x="620" y="425.3">GhSOT61</tspan></text></g>
<g id="hD-D08"><rect class="c k" x="639.3" y="375.7" width="2.7" height="82.6" rx="1.3"/><text class="h" x="640.6" y="363">D08</text></g>
<g id="hD-D09"><rect class="c" x="649.3" y="375.7" width="2.7" height="62.6" rx="1.3"/><text class="h" x="650.8" y="363">D09</text><text class="g"><tspan x="657.3" y="425.3">GhSOT62</tspan><tspan x="657.3" y="437.7">GhSOT63</tspan></text></g>
<g id="hD-D10"><rect class="c k" x="675" y="375.7" width="2.7" height="80.3" rx="1.3"/><text class="h" x="676.4" y="363">D10</text><text class="g"><tspan x="683.3" y="392.3">GhSOT64</tspan><tspan x="683.3" y="445">GhSOT65</tspan></text></g>
<g id="hD-D11"><rect class="c" x="700.7" y="375.7" width="2.7" height="85.3" rx="1.3"/><text class="h" x="702" y="363">D11</text><text class="g"><tspan x="708.3" y="426">GhSOT66</tspan><tspan x="708.3" y="430">GhSOT67</tspan><tspan x="708.3" y="434">GhSOT68</tspan><tspan x="708.3" y="438">GhSOT69</tspan><tspan x="708.3" y="442">GhSOT70</tspan></text></g>
<g id="hD-D12"><rect class="c k" x="726.7" y="375.7" width="2.7" height="74.3" rx="1.3"/><text class="h" x="728" y="363">D12</text><text class="g"><tspan x="735" y="435.3">GhSOT71</tspan><tspan x="735" y="439.3">GhSOT72</tspan><tspan x="735" y="443.3">GhSOT73</tspan></text></g>
<g id="hD-D13"><rect class="c k" x="752.3" y="375.7" width="2.7" height="77" rx="1.3"/><text class="h" x="753.6" y="363">D13</text><text class="g"><tspan x="760" y="398.3">GhSOT74</tspan><tspan x="760" y="445.7">GhSOT75</tspan></text></g>
<g id="hD-links"><path class="l" d="M478.4 382.3H483.8
M478.4 450H479.5M479.5 450L484.5 447.7M479.5 450L484.5 451.7
M513.4 381.7H514.5M514.5 381.7L517.8 365M514.5 381.7L517.8 368.7M514.5 381.7L517.8 372.4M514.5 381.7L517.8 376.1M514.5 381.7L517.8 379.8M514.5 381.7L517.8 383.5M514.5 381.7L517.8 387.2M514.5 381.7L517.8 390.9M514.5 381.7L517.8 394.6M514.5 381.7L517.8 398.3
M538.7 379.3H544.5M538.7 423.3H544.5
M564.4 409H569.5
M564.4 449.3H565.5M565.5 449.3L570.2 444.3M565.5 449.3L570.2 448.3M565.5 449.3L570.2 452.3
M591 447.3H596.2
M616 384.3H617M617 384.3L619.5 382.3M617 384.3L619.5 386.3M616 424.3H619.5
M652 424.3H656.8M652 436.7H656.8
M677.7 391.3H682.8M677.7 444H682.8
M703.4 436.7H704.5M704.5 436.7L707.8 425M704.5 436.7L707.8 429M704.5 436.7L707.8 433M704.5 436.7L707.8 437M704.5 436.7L707.8 441
M729.4 438.3H730.5M730.5 438.3L734.5 434.3M730.5 438.3L734.5 438.3M730.5 438.3L734.5 442.3
M755 397.3H759.5M755 444.7H759.5"/></g>
</g>
</svg>
